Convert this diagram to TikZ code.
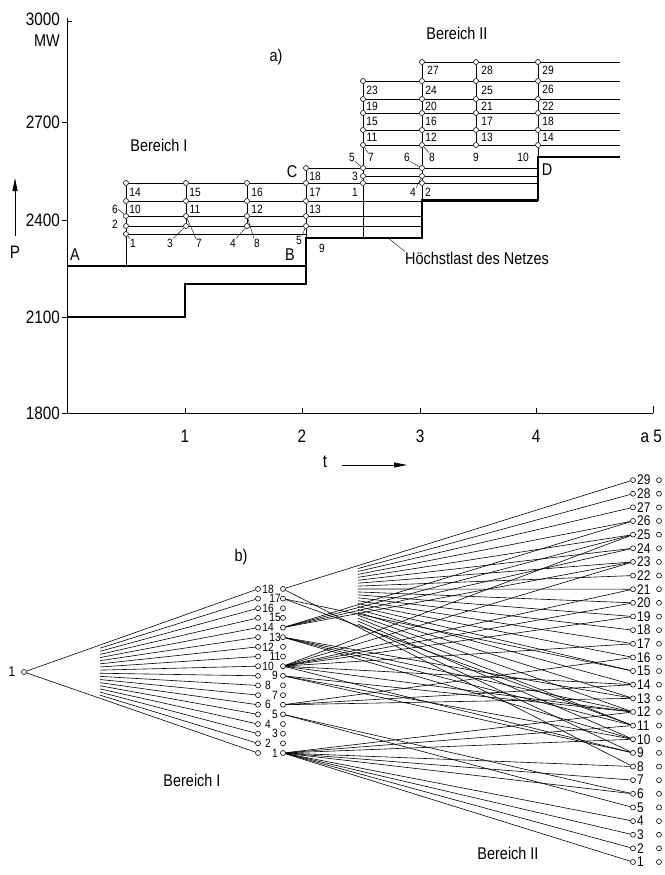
\documentclass[tikz,border=0pt]{standalone}
\usepackage{fontspec}
\setmainfont{Liberation Sans}[FakeStretch=0.85]
\usetikzlibrary{calc,arrows.meta}

\begin{document}
\begin{tikzpicture}[
		x=1pt,y=-1pt,
		knot/.style={circle,draw,fill=white,inner sep=0pt,minimum size=5pt,line width=0.6pt},
		num/.style={inner sep=0pt,font=\fontsize{12}{12}\selectfont},
		bignum/.style={inner sep=0pt,font=\fontsize{14}{14}\selectfont},
		axnum/.style={inner sep=0pt,font=\fontsize{18}{18}\selectfont},
		txt/.style={inner sep=0pt,font=\fontsize{17}{17}\selectfont},
		gline/.style={line width=0.8pt},
		load/.style={line width=1.5pt},
		leader/.style={line width=0.4pt},
		tedge/.style={line width=0.6pt}
	]
	\useasboundingbox (0,0) rectangle (664,875);
	% a) Lastverlauf
	\draw[gline] (67,18) -- (67,413) -- (653,413);
	\foreach \y/\p in {122/2700,220/2400,317/2100,413/1800}{
		\draw[gline] (62,\y) -- (67,\y);
		\node[axnum,anchor=east] (p\p) at (60,\y) {\p};
	}
	\draw[gline] (67,21) -- (72,21);
	\node[axnum,anchor=east] (p3000) at (60,19) {3000};
	\node[txt] (mw) at (47,41) {MW};
	\foreach \t/\x in {1/185,2/302,3/420,4/536}{
		\draw[gline] (\x,413) -- (\x,408);
		\node[axnum] (tk\t) at (\x,436) {\t};
	}
	\draw[gline] (653,413) -- (653,406);
	\node[axnum,anchor=east] (tk5) at (662,436) {a 5};
	\node[axnum] (tl) at (325,462) {t};
	\coordinate (tend) at (407,465);
	\draw[gline,-{Triangle[length=13pt,width=5pt]}] (342,465) -- (tend);
	\node[axnum] (pl) at (15,252) {P};
	\coordinate (ptop) at (15,178);
	\draw[gline,-{Triangle[length=13pt,width=5pt]}] ([yshift=10pt]pl.north) -- (ptop);

	\node[txt] (ta) at (276,57) {a)};
	\node[txt] (b1t) at (159,145) {Bereich I};
	\node[txt] (b2t) at (457,33) {Bereich II};
	\node[txt] (lA) at (75,255) {A};
	\node[txt] (lB) at (290,255) {B};
	\node[txt] (lC) at (292,172) {C};
	\node[txt] (lD) at (547,170) {D};

	\draw[load] (67,317) -- (185,317) -- (185,284) -- (306,284) -- (306,238) -- (422,238) -- (422,200) -- (538,200) -- (538,157) -- (620,157);
	\draw[load] (67,266) -- (306,266);

	\foreach \n/\x/\y in {1/126/234,2/126/226,6/126/216,10/126/201,14/126/183,
		3/186/226,7/186/216,11/186/201,15/186/183,
		4/247/226,8/247/216,12/247/201,16/247/183,
		5/306/226,9/306/216,13/306/201,17/306/183,18/306/168}{
		\node[knot] (a\n) at (\x,\y) {};
	}
	\foreach \n/\x/\y in {1/363/183,3/363/176,5/363/168,7/363/145,11/363/130,15/363/113,19/363/99,23/363/81,
		2/422/183,4/422/176,6/422/168,8/422/145,12/422/130,16/422/113,20/422/99,24/422/81,27/422/62,
		9/476/145,13/476/130,17/476/113,21/476/99,25/476/81,28/476/62,
		10/538/145,14/538/130,18/538/113,22/538/99,26/538/81,29/538/62}{
		\node[knot] (b\n) at (\x,\y) {};
	}

	\draw[gline] (a14) -- (a15) -- (a16) -- (a17) -- (b1) -- (b2) -- (538,183);
	\draw[gline] (a10) -- (a11) -- (a12) -- (a13) -- (538,201);
	\draw[gline] (a6) -- (a7) -- (a8) -- (a9) -- (422,216);
	\draw[gline] (a2) -- (a3) -- (a4) -- (a5) -- (422,226);
	\draw[gline] (a1) -- (306,234);
	\draw[gline] (a18) -- (b5) -- (b6) -- (538,168);
	\draw[gline] (b3) -- (b4) -- (538,176);
	\foreach \p/\q/\r/\s in {7/8/9/10,11/12/13/14,15/16/17/18,19/20/21/22,23/24/25/26}{
		\draw[gline] (b\p) -- (b\q) -- (b\r) -- (b\s) -- ($(b\s)+(82,0)$);
	}
	\draw[gline] (b27) -- (b28) -- (b29) -- ($(b29)+(82,0)$);

	\draw[gline] (126,266) -- (a1) -- (a2) -- (a6) -- (a10) -- (a14);
	\draw[gline] (a3) -- (a7) -- (a11) -- (a15);
	\draw[gline] (a4) -- (a8) -- (a12) -- (a16);
	\draw[gline] (306,238) -- (a5) -- (a9) -- (a13) -- (a17) -- (a18);
	\draw[gline] (363,238) -- (b1) -- (b3) -- (b5) -- (b7) -- (b11) -- (b15) -- (b19) -- (b23);
	\draw[gline] (422,200) -- (b2) -- (b4) -- (b6) -- (b8) -- (b12) -- (b16) -- (b20) -- (b24) -- (b27);
	\draw[gline] (b9) -- (b13) -- (b17) -- (b21) -- (b25) -- (b28);
	\draw[gline] (538,157) -- (b10) -- (b14) -- (b18) -- (b22) -- (b26) -- (b29);

	\foreach \n/\x/\y in {14/135/192,15/195/192,16/257/192,17/315/192,18/315/176,
		10/135/209,11/195/209,12/257/209,13/315/209,6/115/209,2/115/224,
		1/133/243,3/170/243,7/199/243,4/233/243,8/257/243,5/299/240,9/322/248}{
		\node[num] (la\n) at (\x,\y) {\n};
	}
	\foreach \n/\an in {1/north west,3/north east,7/north west,4/north east,8/north west,5/north east,6/east}{
		\draw[leader] (la\n.\an) -- (a\n);
	}
	\foreach \n/\x/\y in {27/433/70,28/487/70,29/548/70,
		23/372/90,24/431/90,25/487/90,26/548/89,
		19/372/106,20/431/106,21/487/106,22/548/106,
		15/372/121,16/431/121,17/487/121,18/548/121,
		11/372/137,12/431/137,13/487/137,14/548/137,
		7/371/157,8/432/157,9/476/157,10/523/157,
		5/352/157,6/407/157,3/355/176,1/355/192,4/413/192,2/428/192}{
		\node[num] (lb\n) at (\x,\y) {\n};
	}
	\foreach \n/\an in {5/south east,6/south east,7/north west,8/north west,4/north east}{
		\draw[leader] (lb\n.\an) -- (b\n);
	}
	\node[txt,anchor=west] (hl) at (405,258) {Höchstlast des Netzes};
	\coordinate (hp) at (388,238);
	\draw[leader] (hl.north west) -- (hp);

	% b) Zustandsbaum
	\node[txt] (tb) at (241,557) {b)};
	\node[txt] (b1b) at (192,780) {Bereich I};
	\node[txt] (b2b) at (508,853) {Bereich II};
	\node[knot] (r) at (24,672) {};
	\node[bignum] (rl) at (12,672) {1};
	\foreach \i in {1,...,18}{
		\pgfmathsetmacro\yy{753-(\i-1)*9.65}
		\node[knot] (L\i) at (258,\yy) {};
		\node[knot] (R\i) at (283,\yy) {};
		\pgfmathsetmacro\xx{isodd(\i) ? 275 : 268}
		\node[num] (lL\i) at (\xx,\yy) {\i};
	}
	\foreach \j in {1,...,29}{
		\pgfmathsetmacro\yy{862-(\j-1)*13.64}
		\node[knot] (Q\j) at (633,\yy) {};
		\node[knot] (S\j) at (659,\yy) {};
		\node[bignum,anchor=west] (lQ\j) at (637,\yy) {\j};
	}
	\draw[tedge] (r) -- (L18);
	\draw[tedge] (r) -- (L1);
	\foreach \i in {2,...,17}{
		\draw[tedge] ($(r)!0.325!(L\i)$) -- (L\i);
	}
	\draw[tedge] (R18) -- (Q29);
	\draw[tedge] (R18) -- (Q8);
	\foreach \j in {9,...,28}{
		\draw[tedge] ($(R18)!0.214!(Q\j)$) -- (Q\j);
	}
	\foreach \s/\t in {17/15,17/11,14/26,14/25,14/24,14/23,13/13,13/12,13/11,13/10,
		10/25,10/23,10/21,10/20,10/19,10/17,10/14,10/12,10/9,9/12,9/10,9/9,
		6/16,6/14,6/13,5/6,5/5,1/12,1/11,1/10,1/8,1/7,1/6,1/4,1/3,1/2,1/1}{
		\draw[tedge] (R\s) -- (Q\t);
	}
\end{tikzpicture}
\end{document}
